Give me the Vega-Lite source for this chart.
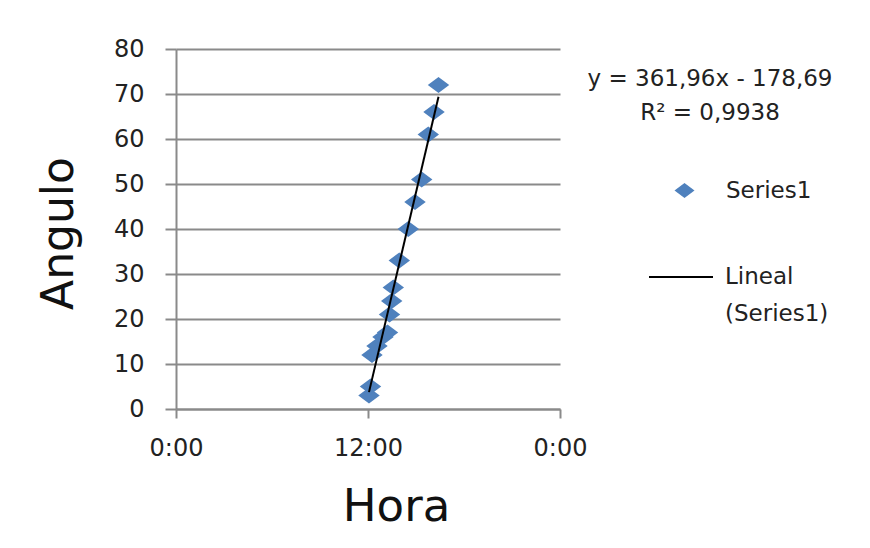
{
  "$schema": "https://vega.github.io/schema/vega-lite/v6.json",
  "autosize": {"type": "none"},
  "width": 384,
  "height": 360,
  "padding": {"left": 176, "top": 49, "right": 310, "bottom": 139},
  "background": "white",
  "config": {
    "view": {"stroke": null},
    "font": "DejaVu Sans",
    "style": {"guide-label": {"lineHeight": 37}}
  },
  "data": {
    "values": [
      {"hora": 0.5026, "angulo": 3},
      {"hora": 0.5065, "angulo": 5},
      {"hora": 0.5104, "angulo": 12},
      {"hora": 0.5234, "angulo": 14},
      {"hora": 0.5390, "angulo": 16},
      {"hora": 0.5508, "angulo": 17},
      {"hora": 0.5560, "angulo": 21},
      {"hora": 0.5617, "angulo": 24},
      {"hora": 0.5659, "angulo": 27},
      {"hora": 0.5815, "angulo": 33},
      {"hora": 0.6049, "angulo": 40},
      {"hora": 0.6224, "angulo": 46},
      {"hora": 0.6398, "angulo": 51},
      {"hora": 0.6570, "angulo": 61},
      {"hora": 0.6719, "angulo": 66},
      {"hora": 0.6836, "angulo": 72}
    ]
  },
  "layer": [
    {
      "mark": {"type": "point", "filled": true, "shape": "M-1,0L0,-0.75L1,0L0,0.75Z", "size": 460, "opacity": 1, "strokeWidth": 0},
      "encoding": {
        "x": {
          "field": "hora", "type": "quantitative",
          "scale": {"domain": [0, 1], "nice": false},
          "axis": {
            "title": "Hora", "values": [0, 0.5, 1],
            "labelExpr": "datum.value == 0.5 ? '12:00' : '0:00'",
            "grid": false, "labelFlush": false, "labelFontSize": 24, "labelColor": "#222222",
            "labelPadding": 18, "tickSize": 9, "tickColor": "#8a8a8a", "tickWidth": 2,
            "domainColor": "#8a8a8a", "domainWidth": 2,
            "titleFontSize": 45, "titleFontWeight": "normal", "titleColor": "#111111",
            "titleX": 220, "titleY": 111, "titleBaseline": "alphabetic", "titleAlign": "center"
          }
        },
        "y": {
          "field": "angulo", "type": "quantitative",
          "scale": {"domain": [0, 80], "nice": false},
          "axis": {
            "title": "Angulo", "values": [0, 10, 20, 30, 40, 50, 60, 70, 80],
            "grid": true, "gridColor": "#8a8a8a", "gridWidth": 2,
            "labelFontSize": 24, "labelColor": "#222222", "labelPadding": 21,
            "tickSize": 11, "tickColor": "#8a8a8a", "tickWidth": 2,
            "domainColor": "#8a8a8a", "domainWidth": 2,
            "titleFontSize": 44, "titleFontWeight": "normal", "titleColor": "#111111",
            "titleAngle": -90, "titleX": -104, "titleY": 184, "titleBaseline": "alphabetic", "titleAlign": "center"
          }
        },
        "fill": {
          "datum": "Series1",
          "scale": {"domain": ["Series1"], "range": ["#4F81BD"]},
          "legend": {
            "orient": "none", "legendX": 497, "legendY": 130, "title": null, "padding": 0,
            "symbolType": "M-1,0L0,-0.75L1,0L0,0.75Z", "symbolSize": 400, "symbolStrokeWidth": 0,
            "labelFontSize": 23, "labelColor": "#222222", "labelOffset": 30
          }
        }
      }
    },
    {
      "transform": [{"regression": "angulo", "on": "hora"}],
      "mark": {"type": "line", "strokeWidth": 2},
      "encoding": {
        "x": {"field": "hora", "type": "quantitative"},
        "y": {"field": "angulo", "type": "quantitative"},
        "stroke": {
          "datum": "Lineal (Series1)",
          "scale": {"domain": ["Lineal (Series1)"], "range": ["#000000"]},
          "legend": {
            "orient": "none", "legendX": 472, "legendY": 195, "title": null, "padding": 0,
            "symbolType": "stroke", "symbolSize": 4096, "symbolStrokeWidth": 2,
            "labelFontSize": 23, "labelColor": "#222222", "labelOffset": 11, "labelLimit": 300,
            "labelExpr": "['Lineal', '(Series1)']"
          }
        }
      }
    },
    {
      "data": {"values": [{"t": 1}]},
      "mark": {"type": "text", "text": ["y = 361,96x - 178,69", "R² = 0,9938"], "fontSize": 23, "lineHeight": 34, "align": "center", "baseline": "middle", "color": "#222222"},
      "encoding": {
        "x": {"datum": 1.3906, "type": "quantitative"},
        "y": {"datum": 73.4, "type": "quantitative"}
      }
    }
  ]
}
